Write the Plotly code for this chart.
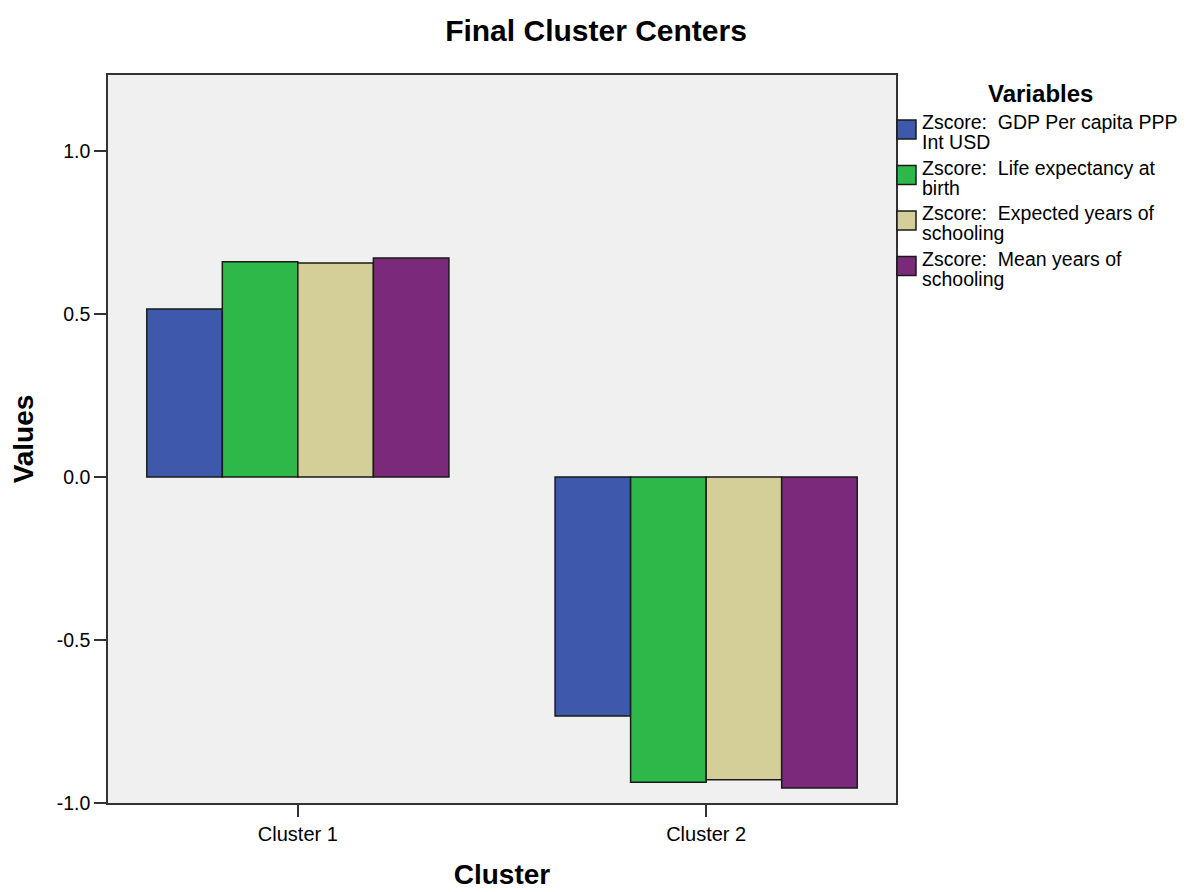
import plotly.graph_objects as go

categories = ["Cluster 1", "Cluster 2"]
legend_title = "Variables"
series_lines = [
    ["Zscore:\u00a0 GDP Per capita PPP", "Int USD"],
    ["Zscore:\u00a0 Life expectancy at", "birth"],
    ["Zscore:\u00a0 Expected years of", "schooling"],
    ["Zscore:\u00a0 Mean years of", "schooling"],
]
gdp = [0.515, -0.733]
life = [0.660, -0.936]
expected = [0.656, -0.929]
mean_school = [0.672, -0.954]
colors = ["#3e58ac", "#2fb84a", "#d4cf98", "#7b2a7b"]

FONT = "Liberation Sans, Arial, sans-serif"
EDGE = "#1a1a1a"

# plot-area geometry in page pixels (page has 8px body margin)
PX0, PX1, PY0, PY1 = 108, 896, 75, 803


def paper_x(X):
    return (X - PX0) / (PX1 - PX0)


def paper_y(Y):
    return (PY1 - Y) / (PY1 - PY0)


fig = go.Figure()
for lines, vals, c in zip(series_lines, [gdp, life, expected, mean_school], colors):
    fig.add_trace(go.Bar(
        x=categories, y=vals, name=" ".join(lines), showlegend=False,
        marker=dict(color=c, line=dict(color=EDGE, width=1.5)),
    ))

# manual legend (outside the plot, right side)
annotations = [dict(
    text="<b>" + legend_title + "</b>", xref="paper", yref="paper",
    x=paper_x(1040), y=paper_y(93), xanchor="center", yanchor="middle",
    showarrow=False, font=dict(size=24, family=FONT, color="#000"),
)]
shapes = []
for i, (lines, c) in enumerate(zip(series_lines, colors)):
    y1 = 122 + 45.5 * i
    shapes.append(dict(
        type="rect", xref="paper", yref="paper",
        x0=paper_x(897), x1=paper_x(916), y0=paper_y(y1 - 2), y1=paper_y(y1 + 17),
        fillcolor=c, line=dict(color=EDGE, width=1.5),
    ))
    for j, t in enumerate(lines):
        annotations.append(dict(
            text=t, xref="paper", yref="paper",
            x=paper_x(920), y=paper_y(y1 + 20 * j), xanchor="left", yanchor="middle",
            showarrow=False, font=dict(size=19.5, family=FONT, color="#000"),
        ))

fig.update_layout(
    width=1187, height=892,
    barmode="group", bargap=0.26, bargroupgap=0,
    paper_bgcolor="white", plot_bgcolor="#f0f0f0",
    margin=dict(l=100, r=299, t=67, b=97),
    font=dict(family=FONT, size=20, color="#000"),
    title=dict(text="<b>Final Cluster Centers</b>", x=(596 - 8) / 1187, xref="container",
               xanchor="center", y=1 - 22 / 892, yanchor="middle", font=dict(size=30)),
    showlegend=False,
    annotations=annotations,
    shapes=shapes,
    xaxis=dict(
        range=[-0.465, 1.465], showline=True, linecolor="#333", linewidth=1.5,
        mirror=True, ticks="outside", ticklen=12, tickcolor="#333", tickwidth=1.5,
        tickfont=dict(size=20), showgrid=False, automargin=False,
        title=dict(text="<b>Cluster</b>", font=dict(size=28), standoff=21),
    ),
    yaxis=dict(
        range=[-1.0, 1.233], tickvals=[-1.0, -0.5, 0.0, 0.5, 1.0],
        ticktext=["-1.0", "-0.5", "0.0", "0.5", "1.0"],
        showline=True, linecolor="#333", linewidth=1.5, mirror=True,
        ticks="outside", ticklen=12, tickcolor="#333", tickwidth=1.5, tickfont=dict(size=19.5),
        showgrid=False, zeroline=False, automargin=False,
        title=dict(text="<b>Values</b>", font=dict(size=28), standoff=18),
    ),
)

fig.write_html("out.html")
